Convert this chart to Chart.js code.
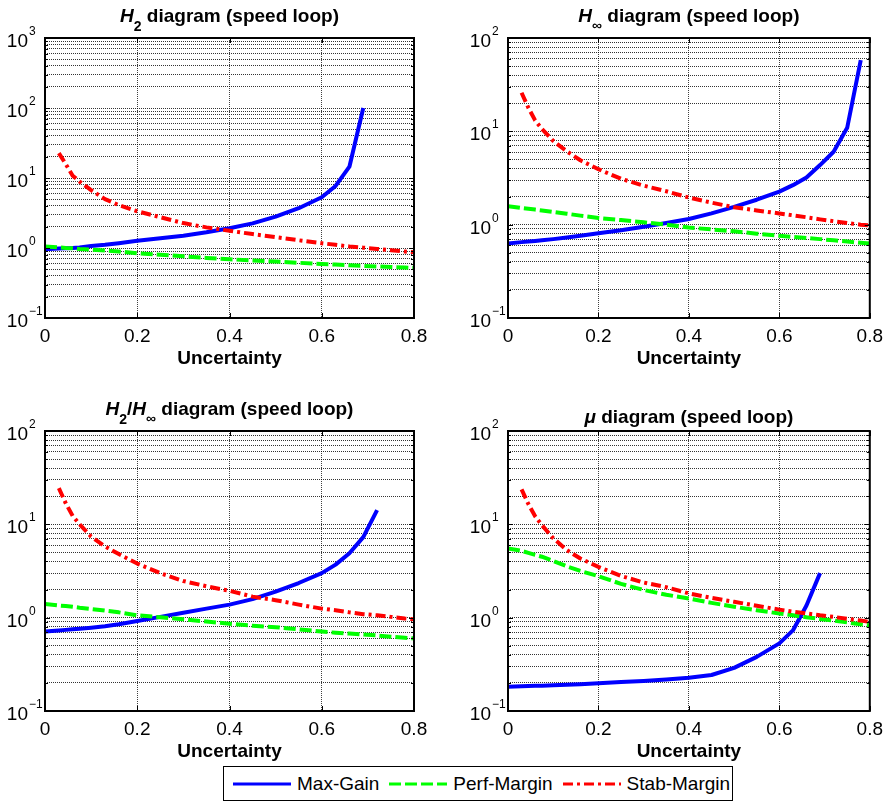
<!DOCTYPE html>
<html>
<head>
<meta charset="utf-8">
<title>Speed loop robustness diagrams</title>
<script src="https://cdn.jsdelivr.net/npm/chart.js@4.4.1/dist/chart.umd.min.js"></script>
<style>
  html, body { margin: 0; padding: 0; background: #fff; }
  #figure { position: relative; width: 890px; height: 802px; overflow: hidden;
            font-family: "Liberation Sans", Arial, Helvetica, sans-serif; }
  .panel { position: absolute; }
  #legend { position: absolute; left: 223px; top: 766px; width: 510px; height: 35px;
            box-sizing: border-box; border: 1.5px solid #000; background: #fff;
            display: flex; align-items: center; padding-left: 9px;
            font-size: 19px; color: #000; z-index: 2; white-space: nowrap; }
  #legend .item { display: flex; align-items: center; margin-right: 10px; flex-shrink: 0; }
  #legend svg { margin-right: 6px; flex-shrink: 0; }
</style>
</head>
<body>
<div id="figure">
  <div class="panel"><canvas id="c0"></canvas></div>
  <div class="panel"><canvas id="c1"></canvas></div>
  <div class="panel"><canvas id="c2"></canvas></div>
  <div class="panel"><canvas id="c3"></canvas></div>
  <div id="legend"></div>
</div>
<script>
// uncertainty samples shared by every curve (null = not computed there)
const uncertainty = [0, 0.03, 0.045, 0.06, 0.075, 0.1, 0.13, 0.16, 0.2, 0.25, 0.3, 0.35,
                     0.4, 0.45, 0.5, 0.55, 0.6, 0.63, 0.66, 0.69, 0.72, 0.75, 0.78, 0.8];

// H2 controller
const h2MaxGain    = [0.96, 0.98, 0.99, 1.0, 1.02, 1.07, 1.11, 1.17, 1.27, 1.38, 1.5, 1.68,
                      1.92, 2.25, 2.8, 3.7, 5.3, 7.7, 14.5, 100, null, null, null, null];
const h2PerfMargin = [1.05, 1.02, 1.0, 0.99, 0.97, 0.95, 0.92, 0.89, 0.84, 0.8, 0.76, 0.72,
                      0.69, 0.665, 0.64, 0.615, 0.59, 0.58, 0.565, 0.555, 0.545, 0.535, 0.525, 0.52];
const h2StabMargin = [null, 22.7, 15.8, 10.8, 8.9, 6.7, 5.0, 4.1, 3.35, 2.75, 2.27, 1.97,
                      1.76, 1.58, 1.43, 1.29, 1.17, 1.11, 1.05, 1.01, 0.97, 0.93, 0.89, 0.87];

// H-infinity controller
const hinfMaxGain    = [0.63, 0.65, 0.66, 0.67, 0.68, 0.7, 0.73, 0.76, 0.81, 0.87, 0.95, 1.04,
                        1.15, 1.32, 1.55, 1.85, 2.26, 2.65, 3.2, 4.35, 6.05, 10.9, 58, null];
const hinfPerfMargin = [1.58, 1.51, 1.48, 1.45, 1.42, 1.37, 1.31, 1.25, 1.18, 1.12, 1.06, 1.0,
                        0.93, 0.89, 0.85, 0.8, 0.76, 0.74, 0.72, 0.7, 0.68, 0.66, 0.64, 0.63];
const hinfStabMargin = [null, 25.9, 17.9, 13.1, 10.6, 7.9, 6.1, 4.9, 3.93, 3.1, 2.62, 2.28,
                        1.95, 1.72, 1.54, 1.42, 1.32, 1.26, 1.2, 1.14, 1.09, 1.04, 1.0, 0.98];

// mixed H2/H-infinity controller
const mixedMaxGain    = [0.71, 0.73, 0.74, 0.75, 0.76, 0.78, 0.81, 0.85, 0.92, 1.02, 1.13, 1.25,
                         1.38, 1.58, 1.9, 2.35, 3.0, 3.7, 4.9, 7.3, 14.2, null, null, null];
const mixedPerfMargin = [1.4, 1.35, 1.33, 1.31, 1.28, 1.24, 1.19, 1.14, 1.06, 1.01, 0.96, 0.91,
                         0.86, 0.82, 0.79, 0.75, 0.71, 0.69, 0.675, 0.66, 0.645, 0.625, 0.61, 0.6];
const mixedStabMargin = [null, 24.4, 16.8, 12.3, 10.0, 7.4, 5.8, 4.8, 3.8, 3.0, 2.47, 2.17,
                         1.94, 1.68, 1.54, 1.38, 1.25, 1.2, 1.14, 1.09, 1.06, 1.02, 0.98, 0.96];

// mu-synthesis controller
const muMaxGain    = [0.182, 0.184, 0.185, 0.186, 0.187, 0.189, 0.191, 0.194, 0.198, 0.204, 0.21, 0.218,
                      0.227, 0.243, 0.29, 0.38, 0.53, 0.73, 1.35, 3.0, null, null, null, null];
const muPerfMargin = [5.5, 5.2, 4.95, 4.7, 4.5, 4.05, 3.55, 3.17, 2.78, 2.3, 1.98, 1.76,
                      1.6, 1.44, 1.31, 1.2, 1.11, 1.06, 1.01, 0.97, 0.93, 0.89, 0.85, 0.83];
const muStabMargin = [null, 23.7, 16.5, 12.2, 9.8, 7.1, 5.3, 4.3, 3.5, 2.8, 2.38, 2.12,
                      1.82, 1.63, 1.48, 1.34, 1.22, 1.16, 1.11, 1.06, 1.02, 0.97, 0.93, 0.9];

const seriesNames = ['Max-Gain', 'Perf-Margin', 'Stab-Margin'];
const seriesColors = ['#0000ff', '#00ff00', '#ff0000'];
const seriesDash = [[], [12, 4], [10, 4, 3, 4]];

const xTicks = [0, 0.2, 0.4, 0.6, 0.8];
const yDecadesH2 = [0.1, 1, 10, 100, 1000];
const yDecades = [0.1, 1, 10, 100];

const FONT = '"Liberation Sans", Arial, Helvetica, sans-serif';
const B = 'bold 19px ' + FONT;
const BI = 'italic bold 19px ' + FONT;
const SUB = 'bold 14px ' + FONT;

const panels = [
  { canvas: 'c0', x: 0, y: 0, w: 445, h: 380, area: { left: 45, right: 414, top: 38, bottom: 318 },
    decades: yDecadesH2, series: [h2MaxGain, h2PerfMargin, h2StabMargin], titleGap: 16,
    title: [['H', BI, 0], ['2', SUB, 9], [' diagram (speed loop)', B, 0]] },
  { canvas: 'c1', x: 445, y: 0, w: 445, h: 380, area: { left: 63, right: 432, top: 38, bottom: 318 },
    decades: yDecades, series: [hinfMaxGain, hinfPerfMargin, hinfStabMargin], titleGap: 16,
    title: [['H', BI, 0], ['\u221e', SUB, 8], [' diagram (speed loop)', B, 0]] },
  { canvas: 'c2', x: 0, y: 380, w: 445, h: 400, area: { left: 45, right: 414, top: 51, bottom: 331 },
    decades: yDecades, series: [mixedMaxGain, mixedPerfMargin, mixedStabMargin], titleGap: 16,
    title: [['H', BI, 0], ['2', SUB, 9], ['/', B, 0], ['H', BI, 0], ['\u221e', SUB, 8], [' diagram (speed loop)', B, 0]] },
  { canvas: 'c3', x: 445, y: 380, w: 445, h: 400, area: { left: 63, right: 432, top: 51, bottom: 331 },
    decades: yDecades, series: [muMaxGain, muPerfMargin, muStabMargin], titleGap: 8,
    title: [['\u03bc', BI, 0], [' diagram (speed loop)', B, 0]] }
];

// 1..9 per decade, for the minor grid
function logTicks(decades) {
  const out = [];
  for (let i = 0; i < decades.length - 1; i++) {
    for (let k = 1; k < 10; k++) out.push(Number((decades[i] * k).toPrecision(3)));
  }
  out.push(decades[decades.length - 1]);
  return out;
}

// axes box, inner tick marks, 10^n labels and the title
function decor(panel) {
  return {
    id: 'decor',
    afterDraw(chart) {
      const { ctx, chartArea: a, scales: { x, y } } = chart;
      ctx.save();
      ctx.strokeStyle = '#000';
      ctx.lineWidth = 1;
      ctx.beginPath();
      y.ticks.forEach(t => {
        const py = Math.round(y.getPixelForValue(t.value)) + 0.5;
        const len = panel.decades.includes(t.value) ? 5 : 3;
        ctx.moveTo(a.left, py); ctx.lineTo(a.left + len, py);
        ctx.moveTo(a.right, py); ctx.lineTo(a.right - len, py);
      });
      x.ticks.forEach(t => {
        const px = Math.round(x.getPixelForValue(t.value)) + 0.5;
        ctx.moveTo(px, a.bottom); ctx.lineTo(px, a.bottom - 5);
        ctx.moveTo(px, a.top); ctx.lineTo(px, a.top + 5);
      });
      ctx.stroke();
      ctx.lineWidth = 2;
      ctx.strokeRect(a.left, a.top, a.right - a.left, a.bottom - a.top);

      ctx.fillStyle = '#000';
      ctx.textBaseline = 'alphabetic';
      panel.decades.forEach(v => {
        const py = y.getPixelForValue(v);
        const exp = String(Math.round(Math.log10(v))).replace('-', '\u2212');
        ctx.font = '19px ' + FONT;
        ctx.textAlign = 'right';
        ctx.fillText('10', a.left - 17, py + 9);
        ctx.font = '12px ' + FONT;
        ctx.textAlign = 'left';
        ctx.fillText(exp, a.left - 16, py - 3);
      });

      const widths = panel.title.map(([text, font]) => { ctx.font = font; return ctx.measureText(text).width; });
      const total = widths.reduce((s, w) => s + w, 0);
      let cx = (a.left + a.right) / 2 - total / 2;
      const base = a.top - panel.titleGap;
      ctx.textAlign = 'left';
      panel.title.forEach(([text, font, dy], i) => {
        ctx.font = font;
        ctx.fillText(text, cx, base + dy);
        cx += widths[i];
      });
      ctx.restore();
    }
  };
}

panels.forEach(panel => {
  const holder = document.getElementById(panel.canvas).parentNode;
  Object.assign(holder.style, { left: panel.x + 'px', top: panel.y + 'px', width: panel.w + 'px', height: panel.h + 'px' });

  const datasets = panel.series.map((vals, i) => ({
    label: seriesNames[i],
    data: uncertainty.map((u, j) => ({ x: u, y: vals[j] })).filter(p => p.y !== null),
    borderColor: seriesColors[i],
    backgroundColor: seriesColors[i],
    borderWidth: 4,
    borderDash: seriesDash[i],
    borderCapStyle: 'butt',
    borderJoinStyle: 'round',
    pointRadius: 0,
    fill: false,
    tension: 0,
    order: 3 - i
  }));

  // "Uncertainty" baseline sits 47px under the axis
  const titleMiddle = panel.area.bottom + 47 - 6;
  const titlePad = panel.h - 11.4 - titleMiddle;

  new Chart(document.getElementById(panel.canvas), {
    type: 'line',
    data: { datasets },
    options: {
      responsive: true,
      maintainAspectRatio: false,
      animation: false,
      events: [],
      layout: { autoPadding: false, padding: { top: panel.area.top, right: panel.w - panel.area.right, bottom: 0, left: 0 } },
      plugins: { legend: { display: false }, tooltip: { enabled: false }, title: { display: false } },
      scales: {
        x: {
          type: 'linear',
          min: 0,
          max: 0.8,
          afterBuildTicks: s => { s.ticks = xTicks.map(v => ({ value: v })); },
          afterFit: s => { s.height = panel.h - panel.area.bottom; },
          ticks: { color: '#000', font: { size: 19, family: FONT }, padding: 7, maxRotation: 0, callback: v => String(v) },
          grid: { color: 'rgba(0,0,0,0.75)', lineWidth: 1, drawTicks: false },
          border: { display: false, dash: [1, 1] },
          title: { display: true, text: 'Uncertainty', color: '#000',
                   font: { size: 19, weight: 'bold', family: FONT }, padding: { top: 0, bottom: titlePad } }
        },
        y: {
          type: 'logarithmic',
          min: panel.decades[0],
          max: panel.decades[panel.decades.length - 1],
          afterBuildTicks: s => { s.ticks = logTicks(panel.decades).map(v => ({ value: v })); },
          afterFit: s => { s.width = panel.area.left; },
          ticks: { display: false },
          grid: { color: 'rgba(0,0,0,0.8)', lineWidth: 1, drawTicks: false },
          border: { display: false, dash: [1, 1] }
        }
      }
    },
    plugins: [decor(panel)]
  });
});

// legend shared by the four diagrams
const legend = document.getElementById('legend');
seriesNames.forEach((name, i) => {
  const item = document.createElement('div');
  item.className = 'item';
  item.innerHTML = '<svg width="58" height="6"><line x1="0" y1="3" x2="58" y2="3" stroke="' + seriesColors[i] +
    '" stroke-width="3" stroke-dasharray="' + (seriesDash[i].join(' ') || 'none') + '"/></svg><span>' + name + '</span>';
  legend.appendChild(item);
});
</script>
</body>
</html>
